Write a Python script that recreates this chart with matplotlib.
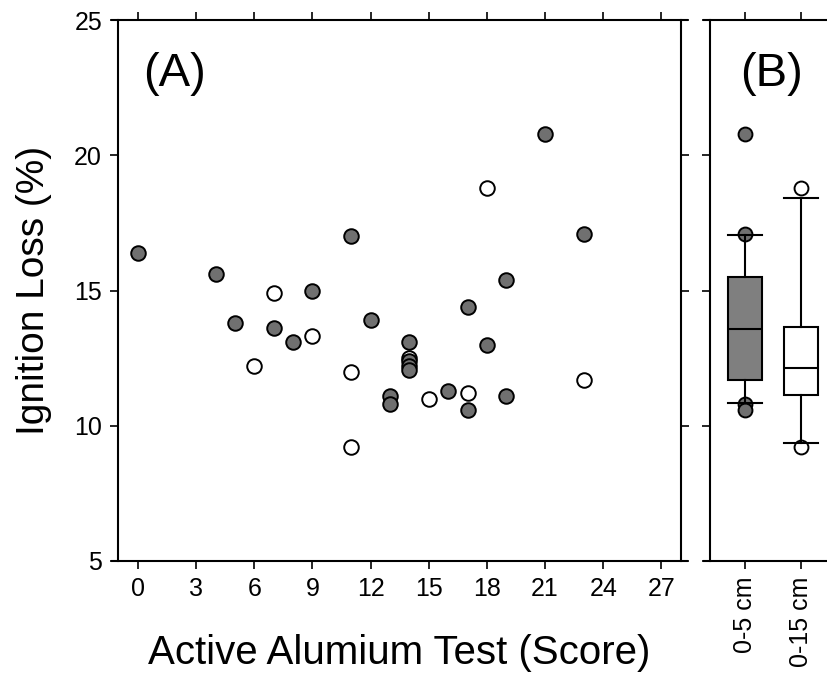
import matplotlib
matplotlib.use("Agg")
import matplotlib.pyplot as plt

plt.rcParams["font.family"] = ["Liberation Sans", "DejaVu Sans"]

# 0-5 cm samples (filled)
score_05 = [0, 4, 5, 7, 8, 9, 11, 12, 13, 13, 14, 14, 14, 14, 16, 17, 17, 18, 19, 19, 21, 23]
loss_05 = [16.4, 15.6, 13.8, 13.6, 13.1, 15.0, 17.0, 13.9, 11.1, 10.8, 13.1, 12.4, 12.2, 12.05,
           11.3, 14.4, 10.6, 13.0, 15.4, 11.1, 20.8, 17.1]

# 0-15 cm samples (open)
score_015 = [6, 7, 9, 11, 11, 14, 15, 17, 18, 23]
loss_015 = [12.2, 14.9, 13.3, 12.0, 9.2, 12.5, 11.0, 11.2, 18.8, 11.7]

# box summaries (10th/25th/50th/75th/90th percentiles + points outside)
depths = ["0-5 cm", "0-15 cm"]
box_q1 = [11.7, 11.14]
box_med = [13.58, 12.13]
box_q3 = [15.51, 13.66]
box_lo = [10.85, 9.36]
box_hi = [17.05, 18.42]
box_out = [[20.8, 17.1, 10.8, 10.6], [18.8, 9.2]]

fill_gray = "#707070"
box_gray = "#7f7f7f"

fig = plt.figure(figsize=(8.27, 6.74), dpi=100)
W, H = 827, 674
axA = fig.add_axes([118 / W, (H - 561) / H, (681 - 118) / W, 541 / H])
axB = fig.add_axes([710 / W, (H - 561) / H, (827 - 710) / W, 541 / H])

mk = dict(s=110, edgecolors="black", linewidths=1.4, zorder=3, clip_on=False)
axA.scatter(score_015, loss_015, facecolors="white", **mk)
axA.scatter(score_05, loss_05, facecolors=fill_gray, **mk)

axA.set_xlim(-1.03, 28.01)
axA.set_ylim(5, 25)
axA.set_xticks(range(0, 28, 3))
axA.set_yticks([5, 10, 15, 20, 25])
axA.set_xlabel("Active Alumium Test (Score)", fontsize=29, labelpad=24)
axA.set_ylabel("Ignition Loss (%)", fontsize=28, labelpad=16)
axA.text(0.045, 0.94, "(A)", transform=axA.transAxes, fontsize=34, va="top", ha="left")
axA.tick_params(direction="out", top=True, right=True, length=5.5, width=1.2,
                labelsize=18, pad=6)
for s in axA.spines.values():
    s.set_linewidth(1.5)
axA.spines["top"].set_bounds(-1.35, 28.33)
axA.spines["bottom"].set_bounds(-1.35, 28.33)

stats = []
for i in range(2):
    stats.append(dict(med=box_med[i], q1=box_q1[i], q3=box_q3[i],
                      whislo=box_lo[i], whishi=box_hi[i], fliers=box_out[i]))
bp = axB.bxp(stats, positions=[1, 2], widths=0.6, capwidths=0.6, patch_artist=True,
             boxprops=dict(linewidth=1.5, edgecolor="black"),
             medianprops=dict(color="black", linewidth=1.5),
             whiskerprops=dict(color="black", linewidth=1.5),
             capprops=dict(color="black", linewidth=1.5),
             flierprops=dict(marker="o", markersize=10, markeredgecolor="black",
                             markeredgewidth=1.4))
for patch, fc in zip(bp["boxes"], [box_gray, "white"]):
    patch.set_facecolor(fc)
for fl, fc in zip(bp["fliers"], [fill_gray, "white"]):
    fl.set_markerfacecolor(fc)
    fl.set_zorder(1)

axB.set_xlim(0.375, 2.464)
axB.set_ylim(5, 25)
axB.set_xticks([1, 2])
axB.set_xticklabels(depths, rotation=90)
axB.set_yticks([5, 10, 15, 20, 25])
axB.text(0.26, 0.94, "(B)", transform=axB.transAxes, fontsize=34, va="top", ha="left")
axB.tick_params(direction="out", top=True, left=True, right=False, length=5.5, width=1.2,
                labelsize=18, labelleft=False, pad=6)
for s in axB.spines.values():
    s.set_linewidth(1.5)
axB.spines["right"].set_visible(False)
axB.spines["top"].set_bounds(0.26, 2.464)
axB.spines["bottom"].set_bounds(0.26, 2.464)

fig.savefig("out.png", dpi=100)
